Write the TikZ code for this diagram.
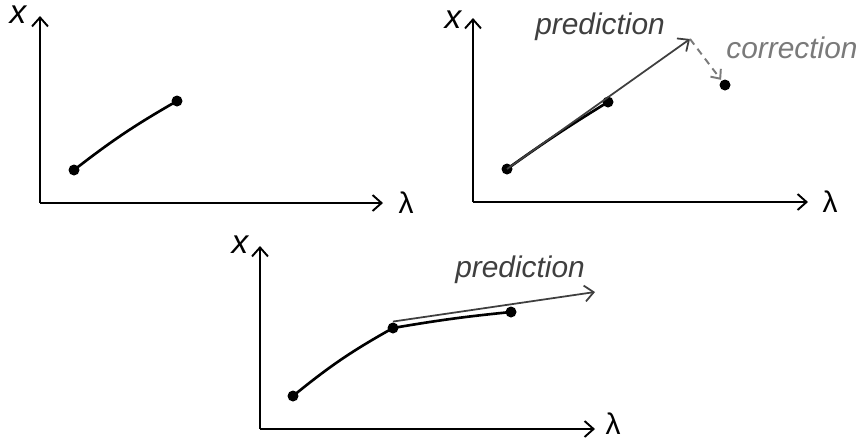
\documentclass[tikz,border=0pt]{standalone}
\usepackage{fontspec}
\setmainfont{Liberation Sans}
\usetikzlibrary{arrows.meta, positioning}
\definecolor{cdark}{HTML}{3F3F3F}
\definecolor{clight}{HTML}{7A7A7A}
\tikzset{
  every picture/.style={line width=1.1pt},
  axis/.style={-{Straight Barb[length=1.8mm, width=3.2mm]}, draw=black, line width=1.1pt},
  curve/.style={draw=black, line width=1.5pt},
  dot/.style={circle, fill=black, inner sep=0pt, minimum size=2.2mm},
  predict/.style={-{Straight Barb[length=1.8mm, width=3.2mm]}, draw=cdark, line width=1pt},
  correct/.style={-{Straight Barb[length=1.5mm, width=2.6mm]}, draw=clight, dash pattern=on 4pt off 3pt, line width=1.1pt},
  note/.style={font=\fontsize{17}{20}\selectfont\itshape, text=cdark},
  axlabel/.style={font=\fontsize{17}{20}\selectfont, inner sep=1pt},
  xlabel/.style={font=\fontsize{19}{22}\selectfont\itshape},
}

\begin{document}
\begin{tikzpicture}[x=0.02cm, y=-0.02cm]
  \useasboundingbox (0,0) rectangle (858,441);
  % left panel
  \coordinate (o1) at (40,203);
  \coordinate (y1) at (40,16);
  \coordinate (e1) at (383,203);
  \draw[axis] (o1) -- (y1);
  \draw[axis] (o1) -- (e1);
  \node[xlabel] (x1) at (18,15) {x};
  \node[axlabel] (l1) at (406,203) {λ};
  \node[dot] (a1) at (74,170) {};
  \node[dot] (b1) at (177,101) {};
  \draw[curve] (a1.center) to[bend left=4] (b1.center);
  % right panel
  \coordinate (o2) at (473,202);
  \coordinate (y2) at (473,18);
  \coordinate (e2) at (808,202);
  \draw[axis] (o2) -- (y2);
  \draw[axis] (o2) -- (e2);
  \node[xlabel] (x2) at (453,20) {x};
  \node[axlabel] (l2) at (830,202) {λ};
  \node[dot] (a2) at (507,169) {};
  \node[dot] (b2) at (608,102) {};
  \node[dot] (c2) at (725,85) {};
  \coordinate (p2) at (690,39);
  \draw[curve] (a2.center) to[bend left=2] (b2.center);
  \draw[predict] (a2.center) -- (p2);
  \draw[correct] (p2) -- (c2);
  \node[note] (t2) at (600,27) {prediction};
  \node[note, text=clight] (k2) at (792,48) {correction};
  % bottom panel
  \coordinate (o3) at (260,429);
  \coordinate (y3) at (260,246);
  \coordinate (e3) at (595,429);
  \draw[axis] (o3) -- (y3);
  \draw[axis] (o3) -- (e3);
  \node[xlabel] (x3) at (240,245) {x};
  \node[axlabel] (l3) at (613,424) {λ};
  \node[dot] (a3) at (293,396) {};
  \node[dot] (b3) at (393,328) {};
  \node[dot] (c3) at (511,312) {};
  \coordinate (p3) at (595,292);
  \draw[curve] (a3.center) to[bend left=5] (b3.center) to[bend left=2] (c3.center);
  \draw[predict] (b3.north) -- (p3);
  \node[note] (t3) at (520,270) {prediction};
\end{tikzpicture}
\end{document}
